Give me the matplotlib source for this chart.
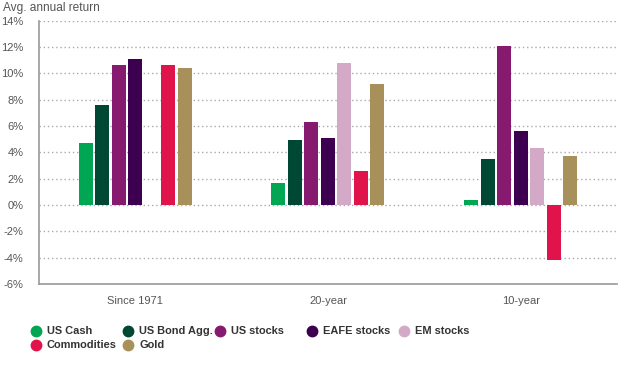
import numpy as np
import matplotlib.pyplot as plt
from matplotlib.lines import Line2D

plt.rcParams['font.family'] = ['Liberation Sans', 'DejaVu Sans']

periods = ['Since 1971', '20-year', '10-year']
series = ['US Cash', 'US Bond Agg.', 'US stocks', 'EAFE stocks', 'EM stocks', 'Commodities', 'Gold']
colors = ['#00a651', '#004833', '#861a6e', '#3d0050', '#d4a9c7', '#e0134a', '#a8905a']

us_cash = [4.7, 1.7, 0.4]
us_bond = [7.6, 4.9, 3.5]
us_stocks = [10.6, 6.3, 12.1]
eafe_stocks = [11.1, 5.1, 5.6]
em_stocks = [np.nan, 10.8, 4.3]
commodities = [10.6, 2.6, -4.2]
gold = [10.4, 9.2, 3.7]
values = [us_cash, us_bond, us_stocks, eafe_stocks, em_stocks, commodities, gold]

fig = plt.figure(figsize=(6.33, 3.67), dpi=100)
ax = fig.add_axes([0.0616, 0.2262, 0.913, 0.7174])

x = np.arange(len(periods))
slot = 0.0856
width = 0.0727
for i, vals in enumerate(values):
    ax.bar(x + (i - 3) * slot, vals, width=width, color=colors[i], zorder=3)

ax.set_xlim(-0.5, 2.5)
ax.set_ylim(-6, 14)
ax.set_yticks(range(-6, 15, 2))
ax.set_yticklabels([f'{v}%' for v in range(-6, 15, 2)])
ax.set_xticks(x)
ax.set_xticklabels(periods)
ax.yaxis.grid(True, linestyle=(0, (1, 2)), color='#aaaaaa', linewidth=1, zorder=0)
ax.tick_params(length=0, labelsize=8, labelcolor='#555555')
ax.tick_params(axis='y', pad=11)
ax.tick_params(axis='x', pad=9)
for s in ['top', 'right']:
    ax.spines[s].set_visible(False)
for s in ['left', 'bottom']:
    ax.spines[s].set_color('#999999')
    ax.spines[s].set_linewidth(1.2)

fig.text(0.004, 0.977, 'Avg. annual return', fontsize=8.6, color='#555555', va='center', ha='left')

# legend laid out on a fixed grid like the original
col_x = [36, 128, 220, 312, 404]
row_y = [331, 345]
for i, name in enumerate(series):
    r, c = divmod(i, 5)
    cx = col_x[c] / 633
    cy = 1 - row_y[r] / 367
    fig.add_artist(Line2D([cx], [cy], marker='o', markersize=7.5, color=colors[i],
                          linestyle='none', transform=fig.transFigure))
    fig.text(cx + 11 / 633, cy, name, fontsize=7.9, fontweight='bold', color='#333333',
             va='center', ha='left')

fig.savefig('out.png', dpi=100)
